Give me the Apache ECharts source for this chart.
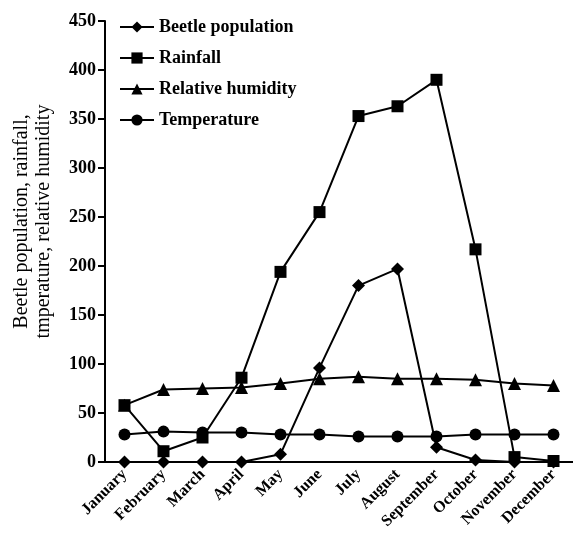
<!DOCTYPE html>
<html><head><meta charset="utf-8">
<script src="https://cdn.jsdelivr.net/npm/echarts@6/dist/echarts.min.js"></script>
<style>html,body{margin:0;padding:0;background:#fff}#c{width:573px;height:542px}</style>
</head><body><div id="c"></div>
<script>
const months = ['January','February','March','April','May','June','July','August','September','October','November','December'];
const beetle = [0, 0, 0, 0, 8, 96, 180, 197, 15, 2, 0, 0];
const rainfall = [58, 11, 25, 86, 194, 255, 353, 363, 390, 217, 5, 1];
const humidity = [58, 74, 75, 76, 80, 85, 87, 85, 85, 84, 80, 78];
const temperature = [28, 31, 30, 30, 28, 28, 26, 26, 26, 28, 28, 28];
const yTicks = [0, 50, 100, 150, 200, 250, 300, 350, 400, 450];

const font = '"Liberation Serif", "DejaVu Serif", serif';
function mk(name, data, symbol, size) {
  return {name, type: 'line', data, symbol, symbolSize: size,
    lineStyle: {color: '#000', width: 2}, itemStyle: {color: '#000'}, z: 3};
}
const chart = echarts.init(document.getElementById('c'));
chart.setOption({
  animation: false,
  backgroundColor: '#fff',
  grid: {left: 105, right: 0, top: 21, bottom: 80, containLabel: false, outerBoundsMode: 'none'},
  legend: {
    orient: 'vertical', left: 114, top: 13, itemGap: 13, itemWidth: 34, itemHeight: 14,
    textStyle: {fontFamily: font, fontWeight: 'bold', fontSize: 18, color: '#000'},
    data: ['Beetle population', 'Rainfall', 'Relative humidity', 'Temperature']
  },
  xAxis: {
    type: 'category', data: months, boundaryGap: true,
    axisLine: {lineStyle: {color: '#000', width: 2}},
    axisTick: {lineStyle: {color: '#000', width: 2}, length: 7},
    axisLabel: {rotate: 45, color: '#000', fontFamily: font, fontWeight: 'bold', fontSize: 16, interval: 0, margin: 10}
  },
  yAxis: {
    type: 'value', min: 0, max: 450, interval: 50,
    name: 'Beetle population, rainfall,\ntmperature, relative humidity',
    nameLocation: 'middle', nameGap: 50, nameRotate: 90,
    nameTextStyle: {fontFamily: font, fontSize: 20, color: '#000', lineHeight: 22, padding: [0, 0, 0, 40]},
    splitLine: {show: false},
    axisLine: {show: true, lineStyle: {color: '#000', width: 2}},
    axisTick: {show: true, lineStyle: {color: '#000', width: 2}, length: 7},
    axisLabel: {color: '#000', fontFamily: font, fontWeight: 'bold', fontSize: 18, margin: 9,
      formatter: v => yTicks.includes(v) ? String(v) : ''}
  },
  series: [
    mk('Beetle population', beetle, 'diamond', 13),
    mk('Rainfall', rainfall, 'rect', 12),
    mk('Relative humidity', humidity, 'triangle', 13),
    mk('Temperature', temperature, 'circle', 12)
  ]
});
</script></body></html>
